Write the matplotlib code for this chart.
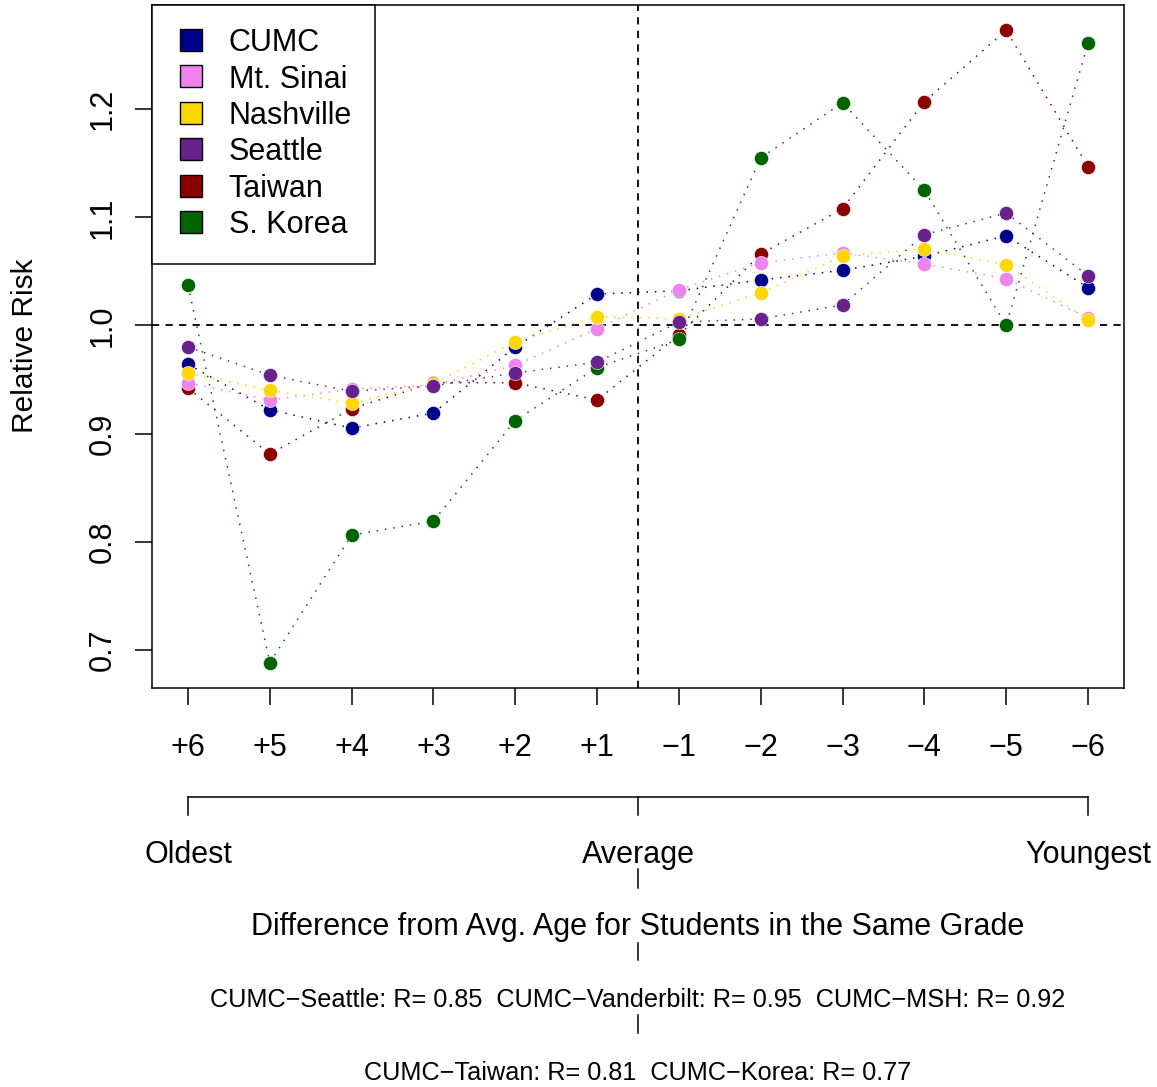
import matplotlib
matplotlib.use("Agg")
import matplotlib.pyplot as plt
from matplotlib.lines import Line2D
import matplotlib.transforms as mtransforms

plt.rcParams['font.family'] = ['Liberation Sans', 'DejaVu Sans']

# ---------------- data ----------------
offset_labels = ['+6', '+5', '+4', '+3', '+2', '+1',
                 '\u22121', '\u22122', '\u22123', '\u22124', '\u22125', '\u22126']

cumc    = [0.964, 0.922, 0.905, 0.919, 0.980, 1.029, 1.032, 1.042, 1.051, 1.064, 1.083, 1.035]
sinai   = [0.947, 0.931, 0.941, 0.945, 0.963, 0.997, 1.033, 1.058, 1.067, 1.057, 1.043, 1.007]
nash    = [0.956, 0.940, 0.928, 0.946, 0.985, 1.008, 1.006, 1.030, 1.064, 1.071, 1.056, 1.005]
seattle = [0.980, 0.954, 0.939, 0.944, 0.956, 0.966, 1.003, 1.006, 1.019, 1.084, 1.104, 1.046]
taiwan  = [0.942, 0.881, 0.923, 0.947, 0.947, 0.931, 0.991, 1.066, 1.108, 1.207, 1.273, 1.147]
korea   = [1.037, 0.688, 0.806, 0.819, 0.912, 0.961, 0.987, 1.155, 1.206, 1.125, 1.000, 1.261]

series_names = ['CUMC', 'Mt. Sinai', 'Nashville', 'Seattle', 'Taiwan', 'S. Korea']
series_colors = ['#00008B', '#EE82EE', '#FFD700', '#68228B', '#8B0000', '#006400']
series_values = [cumc, sinai, nash, seattle, taiwan, korea]
draw_order = [0, 4, 5, 1, 2, 3]

yticks = [0.7, 0.8, 0.9, 1.0, 1.1, 1.2]
group_labels = ['Oldest', 'Average', 'Youngest']
xlabel = 'Difference from Avg. Age for Students in the Same Grade'
corr_line1 = 'CUMC\u2212Seattle: R= 0.85  CUMC\u2212Vanderbilt: R= 0.95  CUMC\u2212MSH: R= 0.92'
corr_line2 = 'CUMC\u2212Taiwan: R= 0.81  CUMC\u2212Korea: R= 0.77'

# ---------------- figure ----------------
W, H = 1157, 1087
FS = 22
fig = plt.figure(figsize=(W / 100, H / 100), dpi=100)
ax = fig.add_axes([152 / W, 1 - 688 / H, (1124 - 152) / W, (688 - 5) / H])

x = list(range(1, len(offset_labels) + 1))
for i in draw_order:
    ax.plot(x, series_values[i], linestyle=(0, (1, 4.5)), linewidth=1.1,
            color=series_colors[i], marker='o', markersize=10.2,
            markerfacecolor=series_colors[i], markeredgecolor='white',
            markeredgewidth=0.4, zorder=3)

allv = [v for s in series_values for v in s]
lo, hi = min(allv), max(allv)
pad = 0.04 * (hi - lo)
ax.set_ylim(lo - pad, hi + pad)
ax.set_xlim(1 - 0.04 * 11, 12 + 0.04 * 11)

ax.axhline(1.0, color='black', linestyle=(0, (4, 3.5)), linewidth=1.3, zorder=2)
ax.axvline(6.5, color='black', linestyle=(0, (4, 3.5)), linewidth=1.3, zorder=2)

ax.set_xticks(x)
ax.set_xticklabels(offset_labels)
ax.set_yticks(yticks)
ax.set_yticklabels([f'{v:.1f}' for v in yticks])
ax.tick_params(axis='both', length=12.5, width=1.1, labelsize=FS, direction='out')
ax.tick_params(axis='x', pad=20)
ax.tick_params(axis='y', pad=12.5)
for lab in ax.get_yticklabels():
    lab.set_rotation(90)
    lab.set_va('center')
for sp in ax.spines.values():
    sp.set_linewidth(1.1)

fig.text(25 / W, 1 - 346 / H, 'Relative Risk', rotation=90, ha='center', va='center', fontsize=21.5)

# legend
handles = [Line2D([], [], linestyle='none', marker='s', markersize=16.5,
                  markerfacecolor=c, markeredgecolor='black', markeredgewidth=1.0)
           for c in series_colors]
leg = ax.legend(handles, series_names, loc='upper left', bbox_to_anchor=(0, 1),
                borderaxespad=0, fontsize=FS, frameon=True, fancybox=False,
                edgecolor='black', handlelength=1.05, handleheight=0.8,
                handletextpad=0.7, labelspacing=0.21, borderpad=0.76)
leg.get_frame().set_linewidth(1.1)
leg.get_frame().set_alpha(1)

# bottom bracket
blend = mtransforms.blended_transform_factory(ax.transData, fig.transFigure)
yb = 1 - 797 / H
yb2 = 1 - 815 / H
ax.add_line(Line2D([1, 12], [yb, yb], transform=blend, color='black', linewidth=1.1, clip_on=False))
for xv in [1, 6.5, 12]:
    ax.add_line(Line2D([xv, xv], [yb, yb2], transform=blend, color='black', linewidth=1.1, clip_on=False))

for xv, lab in zip([1, 6.5, 12], group_labels):
    ax.text(xv, 1 - 863 / H, lab, transform=blend, ha='center', va='baseline', fontsize=FS)

for (a, b) in [(869, 888), (943, 960), (1015, 1033)]:
    ax.add_line(Line2D([6.5, 6.5], [1 - a / H, 1 - b / H], transform=blend, color='black',
                       linewidth=1.1, clip_on=False))

ax.text(6.5, 1 - 935 / H, xlabel, transform=blend, ha='center', va='baseline', fontsize=FS)
ax.text(6.5, 1 - 1007 / H, corr_line1, transform=blend, ha='center', va='baseline', fontsize=18.2)
ax.text(6.5, 1 - 1080 / H, corr_line2, transform=blend, ha='center', va='baseline', fontsize=18.2)

fig.savefig('out.png', dpi=100)
